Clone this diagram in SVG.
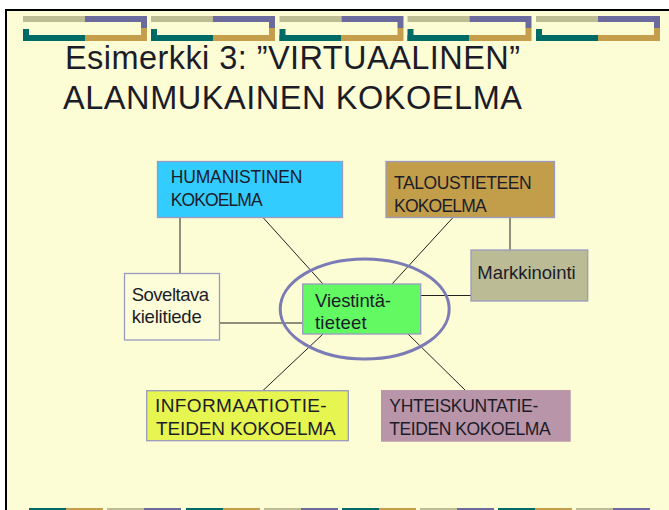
<svg xmlns="http://www.w3.org/2000/svg" xmlns:xlink="http://www.w3.org/1999/xlink" width="669" height="510" viewBox="0 0 669 510">
<style>
.t{font-family:"Liberation Sans",Arial,sans-serif;fill:#1c1c28}
.title{font-size:32.5px}
.cap{font-size:17.5px}
.mix{font-size:18.5px}
.big{font-size:19px}
.conn line{stroke:#222;stroke-width:1}
.box{stroke:#9a9ac0;stroke-width:1.3}
.ol{fill:#bdbd94}.pu{fill:#6b6b9e}.te{fill:#006a66}.go{fill:#c49e4a}
</style>
<defs>
<g id="deco">
<rect class="ol" x="0" y="0" width="62" height="6"/>
<rect class="pu" x="62" y="0" width="62" height="6"/>
<rect class="pu" x="118" y="6" width="6" height="6"/>
<rect class="te" x="0" y="13" width="6" height="12"/>
<rect class="te" x="0" y="19" width="62" height="6"/>
<rect class="go" x="62" y="19" width="62" height="6"/>
<rect class="go" x="118" y="12" width="6" height="7"/>
</g>
<g id="segA"><rect class="te" x="0" y="0" width="37" height="4"/><rect class="go" x="37" y="0" width="37" height="4"/></g>
<g id="segB"><rect class="ol" x="0" y="0" width="37" height="4"/><rect class="pu" x="37" y="0" width="37" height="4"/></g>
</defs>
<rect x="0" y="0" width="669" height="510" fill="#ffffff"/>
<rect x="5" y="9" width="664" height="501" fill="#fcfcd5"/>
<rect x="5" y="9" width="664" height="2" fill="#000"/>
<rect x="5" y="9" width="2" height="501" fill="#000"/>
<g id="top-decoration">
<use xlink:href="#deco" x="23" y="16"/>
<use xlink:href="#deco" x="151" y="16"/>
<use xlink:href="#deco" x="279.5" y="16"/>
<use xlink:href="#deco" x="407.5" y="16"/>
<use xlink:href="#deco" x="536" y="16"/>
</g>
<g id="bottom-decoration">
<use xlink:href="#segA" x="29" y="508"/>
<use xlink:href="#segB" x="107" y="508"/>
<use xlink:href="#segA" x="186" y="508"/>
<use xlink:href="#segB" x="264" y="508"/>
<use xlink:href="#segA" x="342" y="508"/>
<use xlink:href="#segB" x="420" y="508"/>
<use xlink:href="#segA" x="498" y="508"/>
<use xlink:href="#segB" x="576" y="508"/>
</g>
<g id="title">
<text class="t title" x="65" y="68.5" textLength="455" lengthAdjust="spacing">Esimerkki 3: ”VIRTUAALINEN”</text>
<text class="t title" x="63" y="108.5" textLength="459" lengthAdjust="spacing">ALANMUKAINEN KOKOELMA</text>
</g>
<g id="connectors" class="conn">
<line x1="180" y1="217.5" x2="180" y2="273.5"/>
<line x1="263" y1="217.5" x2="323" y2="284"/>
<line x1="453" y1="217.5" x2="392" y2="284"/>
<line x1="510" y1="217.5" x2="510" y2="250"/>
<line x1="471" y1="295.5" x2="420.5" y2="295.5"/>
<line x1="219.5" y1="323" x2="302.5" y2="323"/>
<line x1="323" y1="334" x2="263" y2="390.5"/>
<line x1="408" y1="334" x2="465" y2="390"/>
</g>
<g id="highlight">
<ellipse cx="364.7" cy="309" rx="84.5" ry="50" fill="none" stroke="#7b7bb5" stroke-width="3"/>
</g>
<g id="humanistinen">
<rect class="box" x="157.5" y="161.5" width="185" height="56" fill="#33ccff"/>
<text class="t cap" x="170.7" y="183.3" textLength="131.7">HUMANISTINEN</text>
<text class="t cap" x="170.7" y="205.8" textLength="92">KOKOELMA</text>
</g>
<g id="taloustieteen">
<rect class="box" x="386" y="161.5" width="168.5" height="56" fill="#c39e4a"/>
<text class="t cap" x="394" y="189" textLength="137.7">TALOUSTIETEEN</text>
<text class="t cap" x="394" y="211.5" textLength="92.7">KOKOELMA</text>
</g>
<g id="markkinointi">
<rect class="box" x="471" y="250" width="116.7" height="51" fill="#bbbb95"/>
<text class="t mix" x="477.3" y="278.6" textLength="98.3">Markkinointi</text>
</g>
<g id="soveltava">
<rect class="box" x="124.5" y="273.5" width="95" height="66.5" fill="#fdfdd9"/>
<text class="t mix" x="131.7" y="300.7" textLength="77.3">Soveltava</text>
<text class="t mix" x="131.7" y="323.3" textLength="70">kielitiede</text>
</g>
<g id="viestinta">
<rect class="box" x="302.7" y="284" width="118" height="50" fill="#62f962"/>
<text class="t mix" x="315" y="306.7" textLength="76">Viestintä-</text>
<text class="t mix" x="315" y="328.8" textLength="51.7">tieteet</text>
</g>
<g id="informaatio">
<rect class="box" x="146.7" y="390.7" width="201.6" height="50" fill="#e6f54f"/>
<text class="t big" x="155" y="411.7" textLength="171.7">INFORMAATIOTIE-</text>
<text class="t big" x="156" y="434.8" textLength="179.7">TEIDEN KOKOELMA</text>
</g>
<g id="yhteiskunta">
<rect x="381" y="390" width="189.7" height="51.7" fill="#b895a8"/>
<text class="t cap" x="389.3" y="412" textLength="149">YHTEISKUNTATIE-</text>
<text class="t cap" x="389.3" y="434.8" textLength="161.3">TEIDEN KOKOELMA</text>
</g>
</svg>
